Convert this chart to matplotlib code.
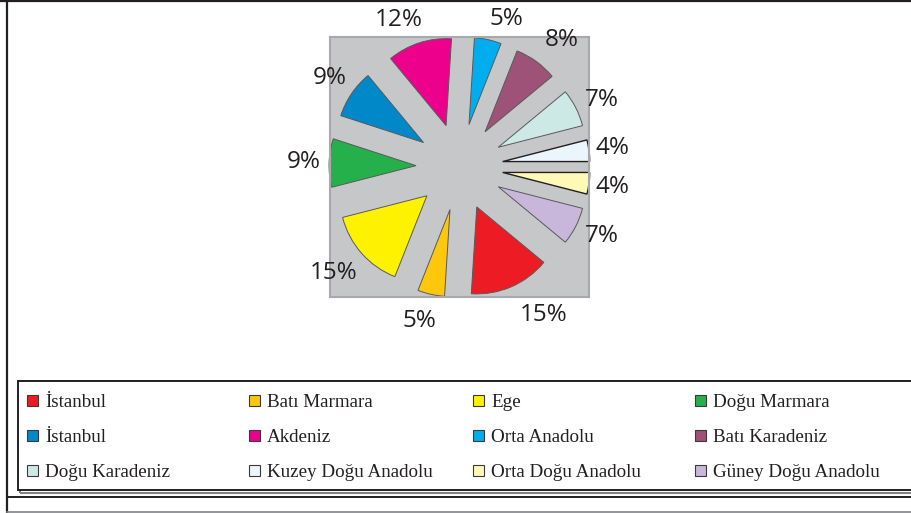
import matplotlib
matplotlib.use('Agg')
import matplotlib.pyplot as plt
from matplotlib.patches import Rectangle, Patch
from matplotlib.lines import Line2D
from matplotlib.transforms import offset_copy

# regions, row by row as they appear in the legend
regions = ['İstanbul', 'Batı Marmara', 'Ege', 'Doğu Marmara',
           'İstanbul', 'Akdeniz', 'Orta Anadolu', 'Batı Karadeniz',
           'Doğu Karadeniz', 'Kuzey Doğu Anadolu', 'Orta Doğu Anadolu', 'Güney Doğu Anadolu']
shares = [15, 5, 15, 9, 9, 12, 5, 8, 7, 4, 4, 7]
colors = ['#ED1C24', '#FDC70C', '#FFF200', '#26B04B',
          '#0088C9', '#EC008C', '#00AEEF', '#9E5277',
          '#CDE9E6', '#EAF6FC', '#FFF9B8', '#C8B7DA']
# small label nudges (pixels, y up) to match the original placement
nudge = [(22, -3), (-6, 0), (-8, -2), (2, 0), (0, 0), (-12, -3),
         (13, -6), (10, 0), (2, -4), (-3, -1), (-3, 0), (2, 2)]

W, H = 912, 513
fig = plt.figure(figsize=(W / 100, H / 100), dpi=100)
fig.patch.set_facecolor('white')


def fx(px):
    return px / W


def fy(py):
    return 1 - py / H


# pie plot area (gray square)
ax = fig.add_axes([fx(330), fy(297), fx(259), (297 - 37) / H])
wedges, texts, autotexts = ax.pie(
    shares, colors=colors, startangle=-39.6, counterclock=False,
    explode=[0.5] * len(shares), autopct='%.0f%%', pctdistance=1.31,
    wedgeprops=dict(edgecolor='#58595B', linewidth=0.7))
for w in wedges[9:11]:
    w.set_edgecolor('#231F20')
    w.set_linewidth(1.0)
for t, (dx, dy) in zip(autotexts, nudge):
    t.set_fontfamily('Open Sans')
    t.set_fontsize(17.5)
    t.set_color('#231F20')
    t.set_clip_on(False)
    t.set_transform(offset_copy(ax.transData, fig=fig, x=dx, y=dy, units='dots'))
ax.set_frame_on(True)
ax.set_aspect('auto')
ax.set_xlim(-129.5 / 87, 129.5 / 87)
ax.set_ylim(-130 / 87, 130 / 87)
ax.set_facecolor('#C6C7C9')
for s in ax.spines.values():
    s.set_color('#A7A9AC')
    s.set_linewidth(1.5)
ax.set_xticks([])
ax.set_yticks([])

# outer frame lines
fig.add_artist(Line2D([0, 1], [fy(0.8), fy(0.8)], transform=fig.transFigure,
                      color='#231F20', lw=1.6))
fig.add_artist(Line2D([fx(7), fx(7)], [0, 1], transform=fig.transFigure,
                      color='#231F20', lw=1.6))
fig.add_artist(Line2D([fx(7), 1], [fy(497), fy(497)], transform=fig.transFigure,
                      color='#231F20', lw=1.4))
fig.add_artist(Line2D([fx(7), 1], [fy(512), fy(512)], transform=fig.transFigure,
                      color='#808285', lw=1.2))

# legend box with shadow
fig.add_artist(Rectangle((fx(20), fy(493)), 1, (493 - 382) / H, transform=fig.transFigure,
                         facecolor='none', edgecolor='#808285', lw=1.5))
fig.add_artist(Rectangle((fx(18), fy(490)), 1, (490 - 381) / H, transform=fig.transFigure,
                         facecolor='white', edgecolor='#231F20', lw=1.4))

# legend, one column at a time
col_x = [27, 249, 473, 695]
for c, x0 in enumerate(col_x):
    idx = [c, c + 4, c + 8]
    handles = [Patch(facecolor=colors[i], edgecolor='#3A3A3A', lw=0.8) for i in idx]
    labels = [regions[i] for i in idx]
    leg = fig.legend(handles, labels, loc='upper left',
                     bbox_to_anchor=(fx(x0), fy(394)), frameon=False,
                     borderpad=0, borderaxespad=0, handlelength=0.6, handleheight=0.5,
                     handletextpad=0.35, labelspacing=0.95,
                     prop=dict(family='Liberation Serif', size=13.7))
    for t in leg.get_texts():
        t.set_color('#231F20')

fig.savefig('out.png', dpi=100)
